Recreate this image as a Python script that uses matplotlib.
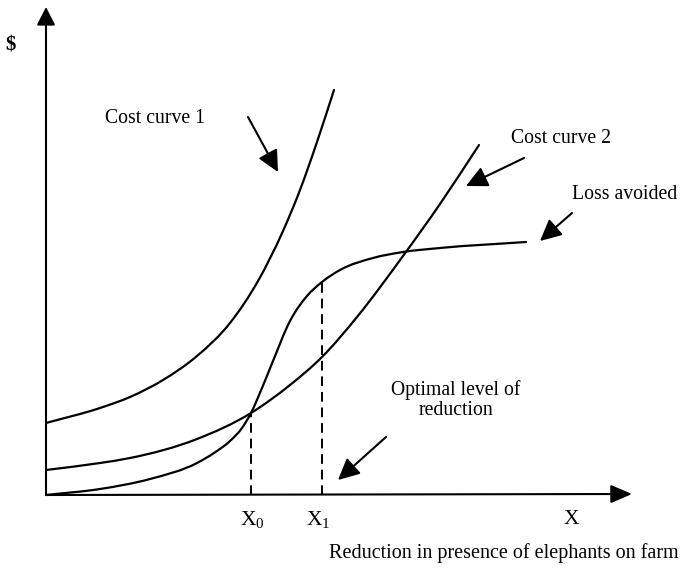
import matplotlib
matplotlib.use("Agg")
import matplotlib.pyplot as plt
from matplotlib.path import Path
from matplotlib.patches import PathPatch

plt.rcParams['font.family'] = ['Liberation Serif', 'DejaVu Serif']
plt.rcParams['mathtext.fontset'] = 'custom'
plt.rcParams['mathtext.rm'] = 'Liberation Serif'
plt.rcParams['mathtext.it'] = 'Liberation Serif:italic'

# ---- data (x: reduction, y: $) ----
cost1_x = [0, 54, 84, 117, 151, 184, 212, 237, 254, 271, 288]
cost1_y = [72, 87, 98, 115, 139, 172, 214, 264, 305, 353, 405]

cost2_x = [0, 54, 84, 151, 205, 244, 276, 311, 357, 394, 433]
cost2_y = [25, 32, 37, 56, 82, 110, 138, 178, 239, 291, 350]

loss_x = [0, 54, 104, 151, 168, 184, 196, 205, 216, 227, 244, 261, 276, 294, 327, 357, 394, 480]
loss_y = [0, 6, 16, 32, 42, 54, 67, 82, 107, 134, 174, 199, 213, 225, 237, 243, 247, 253]

x0_val, x1_val = 205, 276
x0_top, x1_top = 82, 213

# annotation arrows: (label, text position, arrow start, arrow tip)
labels = ["Cost curve 1", "Cost curve 2", "Loss avoided", "Optimal level of\nreduction"]
label_pos = [(109, 377), (515, 357), (579, 301), (410, 95)]
arrow_start = [(202, 378), (478, 337), (526, 282), (340, 58)]
arrow_tip = [(232, 323), (420, 309), (494, 254), (292, 15)]

tick_labels = [r'$\mathrm{X}_{0}$', r'$\mathrm{X}_{1}$']
x_axis_label = "X"
x_title = "Reduction in presence of elephants on farm"
y_title = "$"


def smooth_path(xs, ys):
    """Cubic Bezier path y(x) passing through the read points."""
    n = len(xs)
    sec = [(ys[i + 1] - ys[i]) / (xs[i + 1] - xs[i]) for i in range(n - 1)]
    m = [0.0] * n
    m[0] = sec[0]
    m[-1] = sec[-1]
    for i in range(1, n - 1):
        h0 = xs[i] - xs[i - 1]
        h1 = xs[i + 1] - xs[i]
        m[i] = (sec[i - 1] * h1 + sec[i] * h0) / (h0 + h1)
    verts = [(xs[0], ys[0])]
    codes = [Path.MOVETO]
    for i in range(n - 1):
        h = xs[i + 1] - xs[i]
        verts += [(xs[i] + h / 3, ys[i] + m[i] * h / 3),
                  (xs[i + 1] - h / 3, ys[i + 1] - m[i + 1] * h / 3),
                  (xs[i + 1], ys[i + 1])]
        codes += [Path.CURVE4] * 3
    return Path(verts, codes)


fig = plt.figure(figsize=(6.8, 5.69), dpi=100)
ax = fig.add_axes([0, 0, 1, 1])
ax.set_xlim(-46, 634)
ax.set_ylim(-74, 495)
ax.axis('off')

lw = 1.6
for xs, ys in [(cost1_x, cost1_y), (cost2_x, cost2_y), (loss_x, loss_y)]:
    ax.add_patch(PathPatch(smooth_path(xs, ys), facecolor='none',
                           edgecolor='black', lw=lw, capstyle='round'))

ax.plot([x0_val, x0_val], [0, x0_top], color='black', lw=1.4, ls=(0, (5, 3)))
ax.plot([x1_val, x1_val], [0, x1_top], color='black', lw=1.4, ls=(0, (5, 3)))

# axes with arrows
ax.annotate('', xy=(0, 488), xytext=(0, 0),
            arrowprops=dict(arrowstyle='-|>,head_length=0.55,head_width=0.28',
                            mutation_scale=20, color='black', lw=1.5, shrinkA=0, shrinkB=0))
ax.annotate('', xy=(586, 1), xytext=(0, 0),
            arrowprops=dict(arrowstyle='-|>,head_length=0.65,head_width=0.28',
                            mutation_scale=20, color='black', lw=1.5, shrinkA=0, shrinkB=0))

for lab, pos, s, t in zip(labels, label_pos, arrow_start, arrow_tip):
    ax.text(pos[0], pos[1], lab, ha='center', va='center', fontsize=14.2,
            linespacing=1.1)
    ax.annotate('', xy=t, xytext=s,
                arrowprops=dict(arrowstyle='-|>,head_length=0.65,head_width=0.32',
                                mutation_scale=20, color='black', lw=1.5,
                                shrinkA=0, shrinkB=0))

ax.text(x0_val + 1, -25, tick_labels[0], ha='center', va='center', fontsize=15.5)
ax.text(x1_val - 4, -25, tick_labels[1], ha='center', va='center', fontsize=15.5)
ax.text(525, -24, x_axis_label, ha='center', va='center', fontsize=15.5)
ax.text(458, -58, x_title, ha='center', va='center', fontsize=14.5)
ax.text(-35, 450, y_title, ha='center', va='center', fontsize=15, fontweight='bold')

fig.savefig('out.png', dpi=100)
